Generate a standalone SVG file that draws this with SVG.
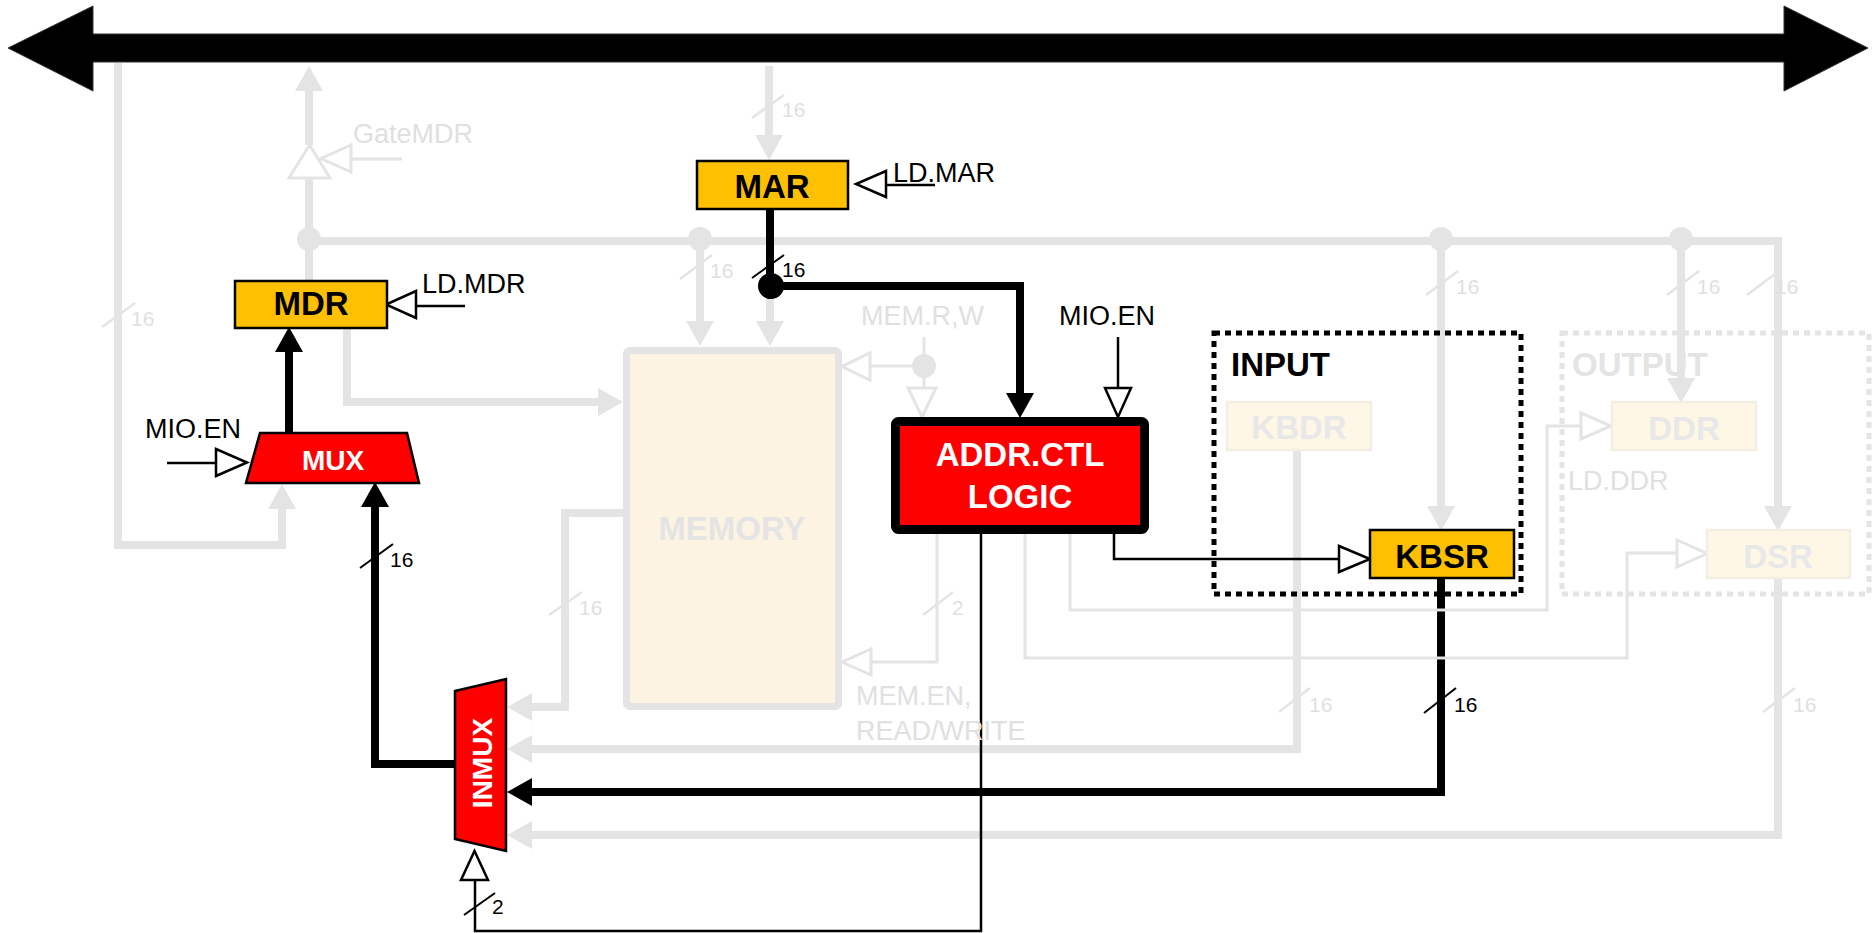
<svg xmlns="http://www.w3.org/2000/svg" width="1872" height="933" viewBox="0 0 1872 933">
<style>
text{font-family:"Liberation Sans",Arial,sans-serif}
.gk{fill:none;stroke:#e4e4e4;stroke-width:8}
.bk{fill:none;stroke:#000;stroke-width:8}
.gt{fill:none;stroke:#e4e4e4;stroke-width:3}
.bt{fill:none;stroke:#000;stroke-width:2.5}
.ctl{fill:#fff;stroke:#000;stroke-width:2.5}
.ctlg{fill:#fff;stroke:#e4e4e4;stroke-width:3}
.sl{stroke:#000;stroke-width:2}
.slg{stroke:#e4e4e4;stroke-width:2.5}
.lbl{font-size:27px;fill:#000}
.lblg{font-size:27px;fill:#e0e0e0}
.num{font-size:21px;fill:#000}
.numg{font-size:21px;fill:#e0e0e0}
.bold{font-size:33px;font-weight:bold;text-anchor:middle}
.reg{fill:#FFC000;stroke:#000;stroke-width:2.5}
.fade{fill:#fff7e6;stroke:#f2eee4;stroke-width:2.5}
</style>
<defs>
<marker id="ag" markerUnits="userSpaceOnUse" markerWidth="26" markerHeight="28" refX="0" refY="14" orient="auto"><path d="M0,0 L25,14 L0,28 z" fill="#e4e4e4"/></marker>
<marker id="ak" markerUnits="userSpaceOnUse" markerWidth="26" markerHeight="28" refX="0" refY="14" orient="auto"><path d="M0,0 L25,14 L0,28 z" fill="#000"/></marker>
</defs>

<g id="bus">
<polygon points="8,48 93,6 93,34 1784,34 1784,6 1868,48 1784,91 1784,62 93,62 93,91" fill="#000" stroke="#333" stroke-width="1"/>
</g>

<g id="connectors">
<!-- gray thick -->
<path class="gk" d="M118,63 V545 H282 V509" marker-end="url(#ag)"/>
<path class="gk" d="M309,280 V178"/>
<path class="gk" d="M309,145 V91" marker-end="url(#ag)"/>
<path class="gk" d="M309,241 H1778 V506" marker-end="url(#ag)"/>
<path class="gk" d="M700,241 V321" marker-end="url(#ag)"/>
<path class="gk" d="M770,286 V321" marker-end="url(#ag)"/>
<path class="gk" d="M769,66 V135" marker-end="url(#ag)"/>
<path class="gk" d="M347,328 V402 H598" marker-end="url(#ag)"/>
<path class="gk" d="M623,513 H565 V707 H532" marker-end="url(#ag)"/>
<path class="gk" d="M1297,450 V749 H532" marker-end="url(#ag)"/>
<path class="gk" d="M1778,578 V835 H532" marker-end="url(#ag)"/>
<path class="gk" d="M1681,241 V378" marker-end="url(#ag)"/>
<path class="gk" d="M1441,241 V506" marker-end="url(#ag)"/>
<circle cx="309" cy="239" r="12" fill="#e4e4e4"/>
<circle cx="700" cy="239" r="12" fill="#e4e4e4"/>
<circle cx="1441" cy="239" r="12" fill="#e4e4e4"/>
<circle cx="1681" cy="239" r="12" fill="#e4e4e4"/>
<polygon class="ctlg" points="289,178 330,178 309.5,145"/>
<!-- black thick -->
<path class="bk" d="M770,209 V286 H1020 V393" marker-end="url(#ak)"/>
<circle cx="771" cy="286" r="13" fill="#000"/>
<path class="bk" d="M289,433 V352" marker-end="url(#ak)"/>
<path class="bk" d="M455,764 H375 V507" marker-end="url(#ak)"/>
<path class="bk" d="M1441,578 V792 H532" marker-end="url(#ak)"/>
<!-- black thin -->
<path class="bt" d="M167,463 H216"/>
<polygon class="ctl" points="216,449 216,476 247,462.5"/>
<path class="bt" d="M416,306 H465"/>
<polygon class="ctl" points="416,291 416,318 386,304.5"/>
<path class="bt" d="M886,185 H935"/>
<polygon class="ctl" points="886,171 886,197 856,184"/>
<path class="bt" d="M1118,337 V388"/>
<polygon class="ctl" points="1105,388 1131,388 1118,417"/>
<path class="bt" d="M1114,533 V559 H1339"/>
<polygon class="ctl" points="1339,546 1339,572 1370,559"/>
<path class="bt" d="M981,533 V931 H475 V880"/>
<polygon class="ctl" points="461,880 488,880 474.5,851"/>
<!-- gray thin -->
<path class="gt" d="M351,159 H402"/>
<polygon class="ctlg" points="351,145 351,172 321,158.5"/>
<path class="gt" d="M924,337 V388 M924,366 H870"/>
<circle cx="924" cy="366" r="12" fill="#e4e4e4"/>
<polygon class="ctlg" points="870,353 870,380 842,366.5"/>
<polygon class="ctlg" points="908,388 936,388 922,417"/>
<path class="gt" d="M937,533 V662 H871"/>
<polygon class="ctlg" points="871,649 871,675 842,662"/>
<path class="gt" d="M1025,533 V658 H1627 V553 H1677"/>
<polygon class="ctlg" points="1677,540 1677,567 1707,553.5"/>
<path class="gt" d="M1070,533 V610 H1547 V426 H1581"/>
<polygon class="ctlg" points="1581,413 1581,439 1611,426"/>
<!-- bit width slashes -->
<line class="slg" x1="102" y1="327" x2="135" y2="303"/>
<line class="slg" x1="752" y1="118" x2="784" y2="95"/>
<line class="slg" x1="680" y1="279" x2="712" y2="255"/>
<line class="slg" x1="549" y1="615" x2="582" y2="592"/>
<line class="slg" x1="1426" y1="295" x2="1458" y2="271"/>
<line class="slg" x1="1667" y1="295" x2="1699" y2="271"/>
<line class="slg" x1="1747" y1="295" x2="1779" y2="271"/>
<line class="slg" x1="1279" y1="712" x2="1310" y2="688"/>
<line class="slg" x1="1763" y1="712" x2="1795" y2="688"/>
<line class="slg" x1="923" y1="615" x2="953" y2="592"/>
<line class="sl" x1="752" y1="278" x2="784" y2="255"/>
<line class="sl" x1="360" y1="568" x2="393" y2="544"/>
<line class="sl" x1="1424" y1="713" x2="1456" y2="688"/>
<line class="sl" x1="464" y1="915" x2="495" y2="893"/>
<text class="numg" x="131" y="326">16</text>
<text class="numg" x="782" y="117">16</text>
<text class="numg" x="710" y="278">16</text>
<text class="numg" x="579" y="615">16</text>
<text class="numg" x="1456" y="294">16</text>
<text class="numg" x="1697" y="294">16</text>
<text class="numg" x="1775" y="294">16</text>
<text class="numg" x="1309" y="712">16</text>
<text class="numg" x="1793" y="712">16</text>
<text class="numg" x="952" y="615">2</text>
<text class="num" x="782" y="277">16</text>
<text class="num" x="390" y="567">16</text>
<text class="num" x="1454" y="712">16</text>
<text class="num" x="492" y="914">2</text>
</g>

<g id="labels">
<text class="lblg" x="353" y="143">GateMDR</text>
<text class="lbl" x="893" y="182">LD.MAR</text>
<text class="lbl" x="422" y="293">LD.MDR</text>
<text class="lbl" x="145" y="438">MIO.EN</text>
<text class="lbl" x="1059" y="325">MIO.EN</text>
<text class="lblg" x="861" y="325">MEM.R,W</text>
<text class="lblg" x="856" y="705">MEM.EN,</text>
<text class="lblg" x="856" y="740">READ/WRITE</text>
<text class="lblg" x="1568" y="490">LD.DDR</text>
</g>

<g id="memory">
<rect x="626.5" y="350.5" width="212" height="356" rx="3" fill="#fdf3e3" stroke="#e4e4e4" stroke-width="7"/>
<text class="bold" x="732" y="540" fill="#e4e4e4">MEMORY</text>
</g>

<g id="mar">
<rect class="reg" x="697" y="161" width="151" height="48"/>
<text class="bold" x="772" y="198" fill="#000">MAR</text>
</g>

<g id="mdr">
<rect class="reg" x="235" y="281" width="152" height="47"/>
<text class="bold" x="311" y="315" fill="#000">MDR</text>
</g>

<g id="mux">
<polygon points="260,433 407,433 419,483 246,483" fill="#f00" stroke="#000" stroke-width="2.5"/>
<text x="333" y="470" font-size="28" font-weight="bold" fill="#fff" text-anchor="middle">MUX</text>
</g>

<g id="addrctl">
<rect x="895.5" y="421.5" width="249" height="108" rx="3" fill="#f00" stroke="#000" stroke-width="9"/>
<text class="bold" x="1020" y="466" fill="#fff">ADDR.CTL</text>
<text class="bold" x="1020" y="508" fill="#fff">LOGIC</text>
</g>

<g id="input">
<rect x="1214" y="333" width="307" height="261" fill="none" stroke="#000" stroke-width="5" stroke-dasharray="6 5"/>
<text x="1231" y="376" font-size="33" font-weight="bold" fill="#000">INPUT</text>
</g>

<g id="kbdr">
<rect class="fade" x="1227" y="402" width="144" height="48"/>
<text class="bold" x="1299" y="439" fill="#e8e8e8">KBDR</text>
</g>

<g id="kbsr">
<rect class="reg" x="1370" y="530" width="144" height="48"/>
<text class="bold" x="1442" y="568" fill="#000">KBSR</text>
</g>

<g id="output">
<rect x="1562" y="333" width="307" height="261" fill="none" stroke="#e4e4e4" stroke-width="5" stroke-dasharray="6 5"/>
<text x="1572" y="376" font-size="33" font-weight="bold" fill="#e4e4e4">OUTPUT</text>
</g>

<g id="ddr">
<rect class="fade" x="1612" y="402" width="144" height="48"/>
<text class="bold" x="1684" y="440" fill="#e8e8e8">DDR</text>
</g>

<g id="dsr">
<rect class="fade" x="1707" y="530" width="143" height="48"/>
<text class="bold" x="1778" y="568" fill="#e8e8e8">DSR</text>
</g>

<g id="inmux">
<polygon points="455,691 506,679 506,851 455,839" fill="#f00" stroke="#000" stroke-width="2.5"/>
<text x="492" y="763" font-size="28" font-weight="bold" fill="#fff" text-anchor="middle" transform="rotate(-90 492 763)">INMUX</text>
</g>
</svg>
